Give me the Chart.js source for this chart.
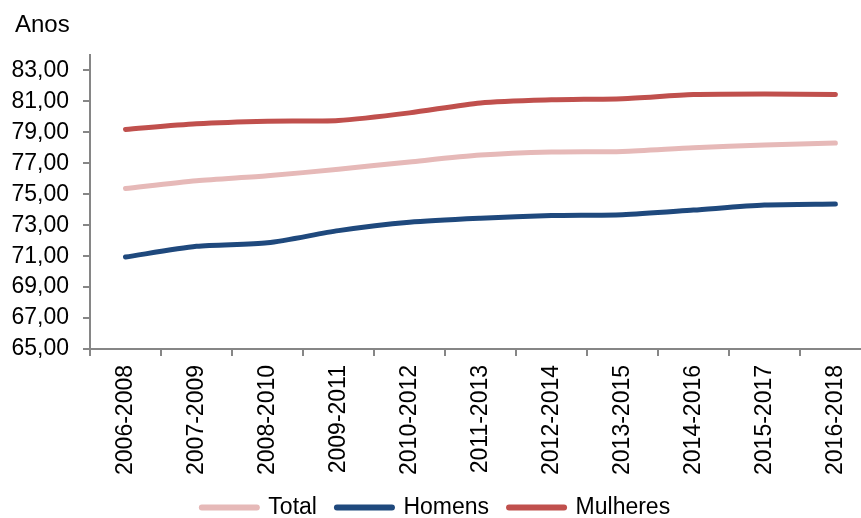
<!DOCTYPE html>
<html>
<head>
<meta charset="utf-8">
<script src="https://cdn.jsdelivr.net/npm/chart.js@4.4.1/dist/chart.umd.min.js"></script>
<style>
  html, body { margin: 0; padding: 0; background: #fff; overflow: hidden; }
  /* the source chart is slightly cropped on the right and at the bottom */
  #wrap { width: 872px; height: 529px; position: relative; }
</style>
</head>
<body>
<div id="wrap"><canvas id="lifeChart"></canvas></div>
<script>
const periods = ['2006-2008', '2007-2009', '2008-2010', '2009-2011', '2010-2012', '2011-2013',
                 '2012-2014', '2013-2015', '2014-2016', '2015-2017', '2016-2018'];
const total    = [75.37, 75.87, 76.19, 76.62, 77.09, 77.53, 77.73, 77.77, 78.01, 78.18, 78.31];
const homens   = [70.94, 71.64, 71.86, 72.65, 73.19, 73.45, 73.62, 73.68, 73.98, 74.30, 74.37];
const mulheres = [79.19, 79.55, 79.72, 79.77, 80.26, 80.90, 81.10, 81.18, 81.44, 81.48, 81.44];
const yTicks = [65, 67, 69, 71, 73, 75, 77, 79, 81, 83];

const axisGrey = '#868686';
const font = { family: '"Liberation Sans", Arial, sans-serif', size: 23 };

// "Anos" label above the y axis
const unitLabel = {
    id: 'unitLabel',
    afterDraw(chart) {
        const ctx = chart.ctx;
        ctx.save();
        ctx.font = '24px "Liberation Sans", Arial, sans-serif';
        ctx.fillStyle = '#000';
        ctx.textBaseline = 'middle';
        ctx.fillText('Anos', 15, 25);
        ctx.restore();
    }
};

const line = (label, data, color) => ({
    label: label,
    data: data,
    borderColor: color,
    backgroundColor: color,
    borderWidth: 5,
    borderCapStyle: 'round',
    pointRadius: 0,
    tension: 0.25
});

new Chart(document.getElementById('lifeChart'), {
    type: 'line',
    data: {
        labels: periods,
        datasets: [
            line('Total', total, '#E6B9B8'),
            line('Homens', homens, '#1F497D'),
            line('Mulheres', mulheres, '#C0504D')
        ]
    },
    options: {
        responsive: true,
        maintainAspectRatio: false,
        animation: false,
        layout: { padding: { top: 55, right: 0, left: 0, bottom: 0 } },
        plugins: {
            tooltip: { enabled: false },
            legend: {
                position: 'bottom',
                labels: {
                    usePointStyle: true,
                    pointStyle: 'line',
                    pointStyleWidth: 55,
                    boxHeight: 23,
                    padding: 20,
                    color: '#000',
                    font: font,
                    generateLabels(chart) {
                        return chart.data.datasets.map((ds, i) => ({
                            text: ds.label,
                            datasetIndex: i,
                            fillStyle: ds.borderColor,
                            strokeStyle: ds.borderColor,
                            lineWidth: 6,
                            lineCap: 'round',
                            pointStyle: 'line',
                            fontColor: '#000',
                            hidden: false
                        }));
                    }
                }
            }
        },
        scales: {
            x: {
                offset: true,
                border: { color: axisGrey, width: 2 },
                grid: { offset: true, drawOnChartArea: false, color: axisGrey, lineWidth: 2, tickLength: 7 },
                ticks: { color: '#000', font: font, maxRotation: 90, minRotation: 90, padding: 9 },
                afterFit(scale) { scale.height = 127; }
            },
            y: {
                min: 65,
                max: 84,
                border: { color: axisGrey, width: 2 },
                grid: { drawOnChartArea: false, color: axisGrey, lineWidth: 2, tickLength: 7 },
                ticks: {
                    color: '#000',
                    font: font,
                    padding: 14,
                    callback: v => v.toFixed(2).replace('.', ',')
                },
                afterBuildTicks(scale) { scale.ticks = yTicks.map(v => ({ value: v })); },
                afterFit(scale) { scale.width = 90; }
            }
        }
    },
    plugins: [unitLabel]
});
</script>
</body>
</html>
